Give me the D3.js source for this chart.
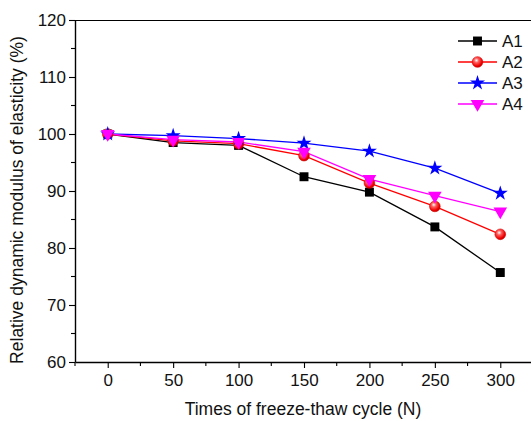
<!DOCTYPE html>
<html><head><meta charset="utf-8">
<script src="https://cdn.jsdelivr.net/npm/d3@7/dist/d3.min.js"></script>
<style>
html,body{margin:0;padding:0;background:#fff;}
svg{display:block;font-family:Arial,"Liberation Sans",sans-serif;}
</style></head>
<body><svg id="c" width="531" height="421"></svg>
<script>
const cycles = [0, 50, 100, 150, 200, 250, 300];
const seriesNames = ["A1", "A2", "A3", "A4"];
const a1 = [100, 98.5, 98.0, 92.5, 89.8, 83.7, 75.7];
const a2 = [100, 98.8, 98.3, 96.2, 91.4, 87.3, 82.4];
const a3 = [100, 99.7, 99.2, 98.4, 97.0, 94.0, 89.6];
const a4 = [100, 99.0, 98.6, 96.9, 92.1, 89.2, 86.4];
const xTicks = [0, 50, 100, 150, 200, 250, 300];
const yTicks = [60, 70, 80, 90, 100, 110, 120];

const colors = ["#000000", "#ff0000", "#0000ff", "#ff00ff"];
const symbols = [d3.symbolSquare, d3.symbolCircle, d3.symbolStar, d3.symbolTriangle];
const allValues = [a1, a2, a3, a4];

const svg = d3.select("#c");
const L = 75, T = 20, B = 362, R = 533;
const x = d3.scaleLinear().domain([-25, 325]).range([L, R]);
const y = d3.scaleLinear().domain([60, 120]).range([B, T]);

const defs = svg.append("defs");
const g = defs.append("radialGradient").attr("id","ball").attr("cx","0.4").attr("cy","0.35").attr("r","0.7");
g.append("stop").attr("offset","0").attr("stop-color","#ffffff");
g.append("stop").attr("offset","0.3").attr("stop-color","#ff6060");
g.append("stop").attr("offset","0.75").attr("stop-color","#ee0000");
g.append("stop").attr("offset","1").attr("stop-color","#b00000");

// frame top
svg.append("line").attr("x1",L).attr("x2",R).attr("y1",T+0.5).attr("y2",T+0.5).attr("stroke","#000").attr("stroke-width",1.2);

// X axis
const xMinor = d3.range(-25, 326, 25).filter(v => v % 50 !== 0);
const xAx = svg.append("g").attr("transform",`translate(0,${B})`);
xAx.call(d3.axisBottom(x).tickValues(xTicks).tickSize(6).tickSizeOuter(0).tickPadding(6).tickFormat(d3.format("d")));
xAx.selectAll(".minor").data(xMinor).enter().append("line").attr("class","minor")
  .attr("x1",d=>x(d)).attr("x2",d=>x(d)).attr("y1",0).attr("y2",4).attr("stroke","#000");
// Y axis
const yMinor = d3.range(65, 120, 10);
const yAx = svg.append("g").attr("transform",`translate(${L},0)`);
yAx.call(d3.axisLeft(y).tickValues(yTicks).tickSize(6).tickSizeOuter(0).tickPadding(3).tickFormat(d3.format("d")));
yAx.selectAll(".minor").data(yMinor).enter().append("line").attr("class","minor")
  .attr("y1",d=>y(d)).attr("y2",d=>y(d)).attr("x1",0).attr("x2",-4).attr("stroke","#000");
[xAx, yAx].forEach(a => {
  a.select(".domain").attr("stroke-width",1.4);
  a.selectAll("text").attr("font-size",17).attr("fill","#111").attr("font-family","Arial, 'Liberation Sans', sans-serif");
  a.selectAll("line").attr("stroke-width",1.1);
});

// axis titles
svg.append("text").attr("x",303).attr("y",415).attr("text-anchor","middle")
  .attr("font-size",17.5).attr("fill","#111").text("Times of freeze-thaw cycle (N)");
svg.append("text").attr("transform",`translate(23,200) rotate(-90)`).attr("text-anchor","middle")
  .attr("font-size",17.5).attr("fill","#111").text("Relative dynamic modulus of elasticity (%)");

const line = d3.line().x((d,i)=>x(cycles[i])).y(d=>y(d));
const sizes = [80, 90, 70, 80];
function marker(sel, i){
  let sym = d3.symbol().type(symbols[i]).size(sizes[i]);
  const p = sel.append("path").attr("d", sym());
  if (i === 1) p.attr("fill","url(#ball)").attr("stroke","#dd0000").attr("stroke-width",0.6);
  else p.attr("fill", colors[i]);
  if (i === 3) p.attr("transform", "rotate(180)");
  return p;
}

allValues.forEach((vals, i) => {
  svg.append("path").datum(vals).attr("d", line).attr("fill","none")
    .attr("stroke", colors[i]).attr("stroke-width",1.3);
});
allValues.forEach((vals, i) => {
  vals.forEach((v, j) => {
    const gg = svg.append("g").attr("transform",`translate(${x(cycles[j])},${y(v)})`);
    marker(gg, i);
  });
});

// legend
const legY = [41, 62, 83, 104];
seriesNames.forEach((n, i) => {
  const lg = svg.append("g").attr("transform",`translate(0,${legY[i]})`);
  lg.append("line").attr("x1",458).attr("x2",497).attr("y1",0).attr("y2",0).attr("stroke",colors[i]).attr("stroke-width",1.3);
  const mg = lg.append("g").attr("transform","translate(477.5,0)");
  marker(mg, i);
  lg.append("text").attr("x",502).attr("y",6).attr("font-size",17).attr("fill","#111").text(n);
});
</script></body></html>
